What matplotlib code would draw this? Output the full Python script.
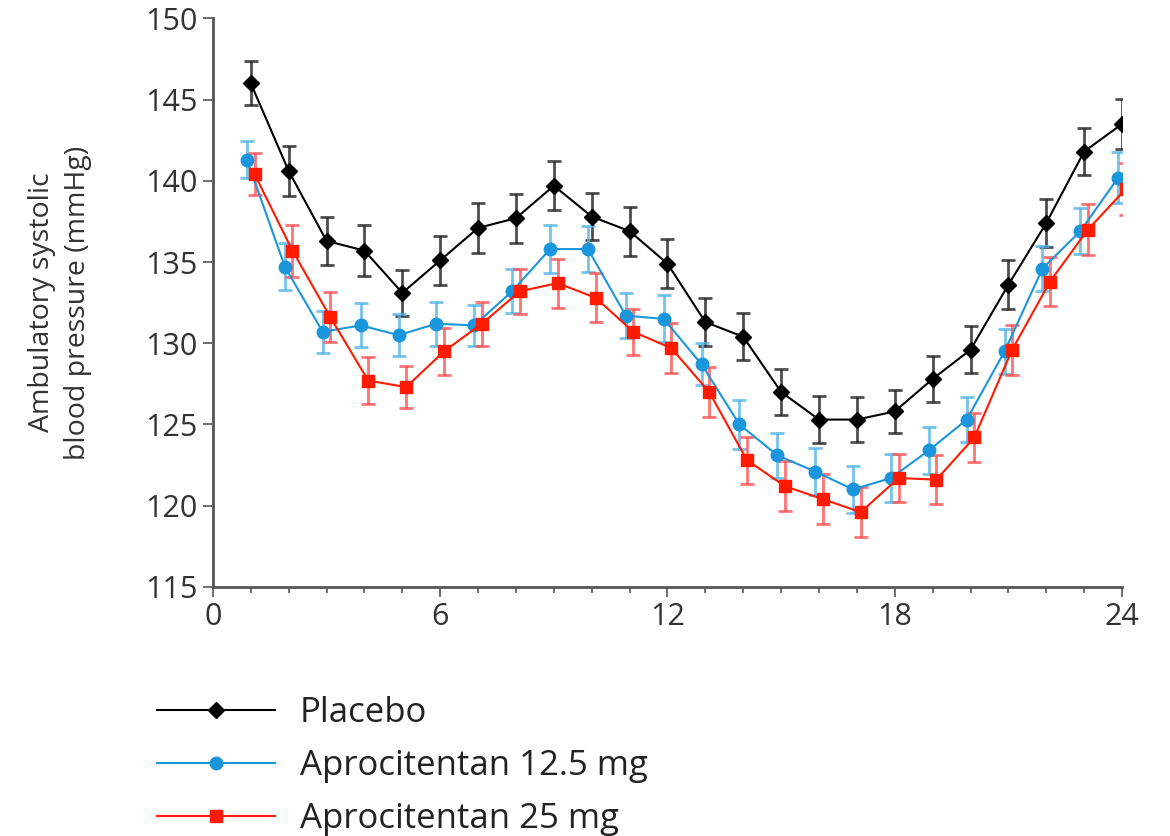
import matplotlib.pyplot as plt
from matplotlib.ticker import MultipleLocator

# hours after dosing
hours = list(range(1, 25))

placebo = [146.0, 140.6, 136.3, 135.7, 133.1, 135.1, 137.1, 137.7, 139.7, 137.8,
           136.9, 134.9, 131.3, 130.4, 127.0, 125.3, 125.3, 125.8, 127.8, 129.6,
           133.6, 137.4, 141.8, 143.5]
placebo_se = [1.35, 1.55, 1.5, 1.55, 1.4, 1.5, 1.55, 1.5, 1.5, 1.45,
              1.5, 1.5, 1.5, 1.45, 1.4, 1.45, 1.4, 1.35, 1.4, 1.45,
              1.5, 1.5, 1.45, 1.55]

apro_12 = [141.3, 134.7, 130.7, 131.1, 130.5, 131.2, 131.1, 133.2, 135.8, 135.8,
           131.7, 131.5, 128.7, 125.0, 123.1, 122.1, 121.0, 121.7, 123.4, 125.3,
           129.5, 134.6, 136.9, 140.2]
apro_12_se = [1.15, 1.45, 1.3, 1.35, 1.3, 1.35, 1.25, 1.35, 1.45, 1.4,
              1.4, 1.45, 1.3, 1.5, 1.4, 1.45, 1.45, 1.45, 1.45, 1.4,
              1.4, 1.4, 1.4, 1.55]

apro_25 = [140.4, 135.7, 131.6, 127.7, 127.3, 129.5, 131.2, 133.2, 133.7, 132.8,
           130.7, 129.7, 127.0, 122.8, 121.2, 120.4, 119.6, 121.7, 121.6, 124.2,
           129.6, 133.8, 137.0, 139.5]
apro_25_se = [1.3, 1.6, 1.55, 1.45, 1.3, 1.45, 1.35, 1.4, 1.5, 1.5,
              1.4, 1.55, 1.55, 1.45, 1.55, 1.55, 1.55, 1.45, 1.5, 1.5,
              1.55, 1.5, 1.55, 1.6]

plt.rcParams['font.family'] = ['Open Sans', 'DejaVu Sans']

fig = plt.figure(figsize=(11.7, 8.36), dpi=100)
ax = fig.add_axes([0.182, 0.298, 0.777, 0.680])

series = [
    (placebo, placebo_se, 0.0, 'Placebo', 'black', '#222222', 'D', 8),
    (apro_12, apro_12_se, -0.1, 'Aprocitentan 12.5 mg', '#1a96dc', '#52b4e8', 'o', 9),
    (apro_25, apro_25_se, 0.1, 'Aprocitentan 25 mg', '#ff1a00', '#ff5050', 's', 9),
]

handles = []
for vals, se, shift, label, col, ecol, mk, ms in series:
    xs = [h + shift for h in hours]
    ax.errorbar(xs, vals, yerr=se, fmt='none', ecolor=ecol, elinewidth=2,
                capsize=5, capthick=2, alpha=0.8, zorder=2)
    line, = ax.plot(xs, vals, color=col, marker=mk, markersize=ms,
                    linewidth=1.5, label=label, zorder=3)
    handles.append(line)

ax.set_xlim(0, 24)
ax.set_ylim(115, 150)
ax.xaxis.set_major_locator(MultipleLocator(6))
ax.xaxis.set_minor_locator(MultipleLocator(1))
ax.yaxis.set_major_locator(MultipleLocator(5))

for s in ['top', 'right']:
    ax.spines[s].set_visible(False)
for s in ['left', 'bottom']:
    ax.spines[s].set_color('#555555')
    ax.spines[s].set_linewidth(2)

ax.tick_params(axis='both', which='major', length=7, width=1.2, color='#555555',
               labelsize=22, labelcolor='#333333', pad=4)
ax.tick_params(axis='x', which='minor', length=4, width=1.2, color='#555555')

ax.set_ylabel('Ambulatory systolic\nblood pressure (mmHg)', fontsize=20.5,
              color='#333333', labelpad=38, linespacing=1.4)

fig.legend(handles=handles, loc='upper left', bbox_to_anchor=(0.134, 0.167),
           frameon=False, fontsize=25, handlelength=3.4, handletextpad=0.72,
           labelspacing=0.54, borderpad=0, borderaxespad=0, labelcolor='#222222')

fig.savefig('out.png', dpi=100)
